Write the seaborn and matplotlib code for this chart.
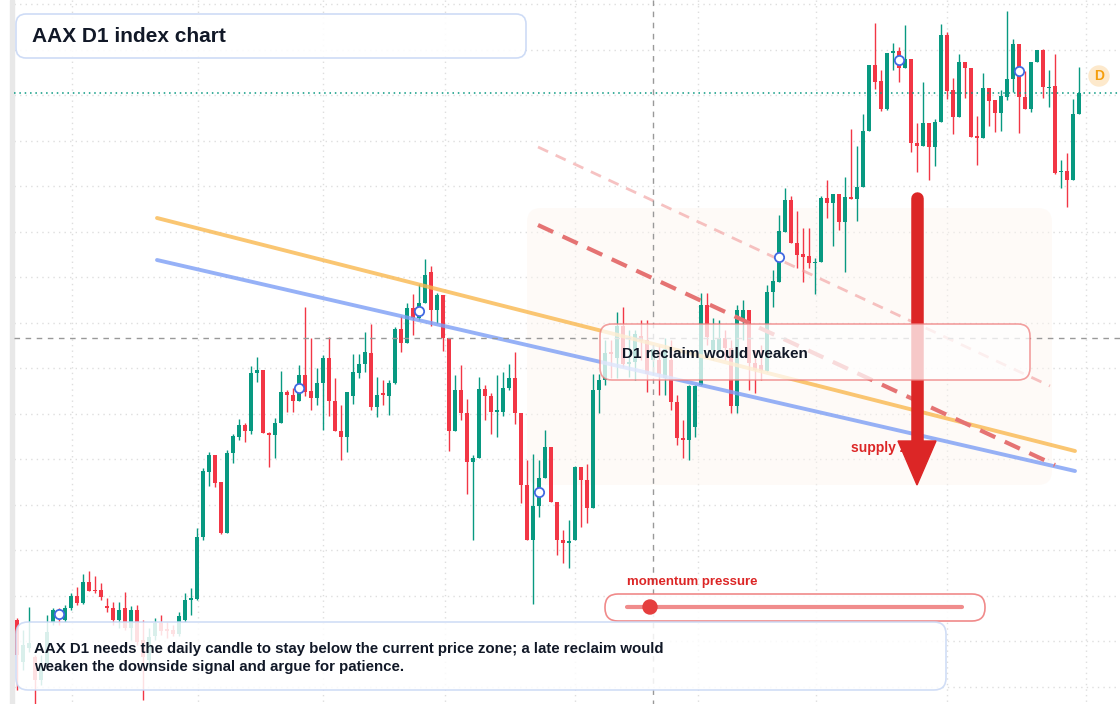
import numpy as np
import pandas as pd
import matplotlib
matplotlib.use("Agg")
import matplotlib.pyplot as plt
import matplotlib.transforms as mtransforms
from matplotlib.patches import FancyBboxPatch, Circle, Polygon
import seaborn as sns

# open, close, high, low per daily candle (smaller = higher price)
ohlc_px = [
    (620, 655, 618, 690), (662, 645, 630, 670), (648, 643, 607, 652), (657, 680, 655, 704), (680, 665, 655, 685),
    (665, 632, 615, 668), (622, 610, 608, 625), (612, 615, 608, 625), (620, 608, 605, 622), (608, 596, 593, 610),
    (596, 603, 587, 605), (603, 582, 574, 604), (582, 591, 571, 591), (590, 591, 576, 593), (590, 597, 583, 600),
    (606, 608, 598, 612), (608, 620, 602, 625), (620, 610, 602, 628), (608, 628, 592, 630), (628, 610, 606, 640),
    (610, 642, 605, 645), (640, 657, 620, 700), (660, 637, 628, 668), (636, 623, 618, 640), (623, 631, 615, 635),
    (629, 631, 622, 638), (630, 634, 625, 636), (634, 616, 612, 636), (620, 600, 593, 622), (600, 598, 588, 615),
    (599, 537, 528, 600), (537, 471, 468, 540), (472, 455, 452, 486), (455, 483, 455, 487), (482, 533, 482, 534),
    (533, 453, 450, 533), (453, 436, 434, 463), (437, 425, 419, 440), (425, 431, 423, 442), (431, 373, 366, 434),
    (373, 370, 357, 382), (370, 433, 370, 433), (433, 435, 432, 467), (435, 423, 418, 458), (423, 392, 371, 423),
    (392, 395, 390, 412), (395, 401, 388, 412), (401, 375, 365, 401), (375, 392, 307, 396), (391, 398, 338, 410),
    (398, 383, 368, 405), (383, 358, 355, 430), (358, 401, 337, 416), (401, 431, 378, 431), (431, 437, 405, 460),
    (437, 392, 392, 452), (396, 372, 354, 404), (373, 364, 354, 378), (364, 352, 332, 372), (353, 407, 324, 410),
    (407, 395, 377, 417), (393, 395, 380, 405), (396, 383, 380, 415), (383, 329, 327, 384), (329, 343, 316, 352),
    (343, 308, 303, 343), (308, 318, 294, 335), (318, 303, 284, 320), (303, 275, 259, 303), (272, 310, 266, 326),
    (310, 295, 293, 323), (295, 338, 295, 351), (338, 431, 338, 451), (431, 390, 375, 431), (390, 413, 365, 420),
    (413, 462, 399, 494), (462, 458, 455, 540), (458, 389, 377, 458), (389, 396, 385, 420), (396, 412, 393, 434),
    (412, 410, 375, 437), (412, 388, 372, 416), (388, 378, 364, 390), (378, 413, 352, 424), (413, 485, 413, 503),
    (485, 540, 460, 540), (540, 506, 454, 604), (506, 478, 460, 517), (478, 447, 430, 478), (447, 502, 447, 502),
    (502, 540, 502, 555), (540, 543, 530, 563), (543, 541, 520, 568), (540, 467, 466, 540), (467, 480, 467, 527),
    (480, 508, 464, 523), (508, 390, 374, 508), (390, 380, 374, 413), (380, 353, 340, 385), (352, 354, 340, 378),
    (358, 326, 312, 378), (326, 364, 307, 367), (364, 362, 330, 377), (362, 334, 330, 380), (336, 341, 320, 360),
    (340, 374, 320, 392), (360, 349, 345, 375), (360, 374, 345, 395), (378, 349, 338, 395), (360, 402, 340, 410),
    (402, 438, 395, 445), (438, 440, 420, 458), (440, 386, 385, 460), (427, 386, 385, 437), (385, 305, 293, 385),
    (305, 337, 293, 345), (350, 340, 318, 360), (350, 338, 320, 352), (338, 348, 330, 360), (348, 406, 340, 413),
    (406, 310, 305, 413), (320, 310, 300, 340), (310, 363, 310, 390), (363, 370, 350, 393), (365, 371, 345, 380),
    (371, 292, 285, 372), (292, 281, 270, 307), (282, 231, 215, 282), (232, 200, 188, 232), (200, 243, 196, 243),
    (243, 255, 211, 268), (254, 257, 228, 282), (256, 263, 228, 268), (263, 262, 258, 294), (262, 198, 196, 262),
    (198, 203, 180, 218), (203, 194, 194, 246), (194, 222, 194, 230), (222, 197, 177, 272), (197, 199, 129, 199),
    (199, 187, 146, 221), (187, 131, 114, 187), (131, 65, 65, 131), (65, 82, 23, 89), (81, 109, 70, 111),
    (109, 53, 53, 110), (53, 51, 43, 70), (51, 68, 47, 82), (68, 59, 25, 68), (59, 143, 59, 152),
    (143, 146, 123, 172), (146, 123, 82, 146), (123, 147, 123, 180), (147, 122, 119, 166), (122, 35, 24, 122),
    (35, 91, 32, 99), (90, 117, 78, 134), (117, 62, 54, 117), (62, 68, 62, 98), (68, 137, 68, 137),
    (136, 138, 116, 165), (138, 88, 73, 138), (88, 101, 88, 126), (100, 113, 100, 132), (113, 96, 90, 131),
    (97, 79, 11, 100), (79, 44, 39, 92), (44, 97, 44, 133), (97, 109, 71, 109), (109, 62, 62, 112),
    (62, 50, 50, 62), (50, 87, 49, 98), (88, 87, 70, 107), (86, 173, 54, 174), (172, 171, 160, 188),
    (171, 180, 153, 207), (180, 114, 99, 180), (114, 93, 67, 114),
]
TOP = 800  # level = TOP - pixel row
candles = TOP - pd.DataFrame(ohlc_px, columns=["open", "close", "high", "low"])
candles["day"] = np.arange(len(candles))

marker_days = [7, 47, 67, 87, 127, 147, 167]
title_text = "AAX D1 index chart"
note_text = ("AAX D1 needs the daily candle to stay below the current price zone; a late reclaim would\n"
             "weaken the downside signal and argue for patience.")
callout_text = "D1 reclaim would weaken"

UP, DOWN = "#089981", "#f23645"

sns.set_theme(style="white")
plt.rcParams["font.family"] = ["Liberation Sans", "DejaVu Sans"]

fig = plt.figure(figsize=(11.2, 7.04), dpi=100)
ax = fig.add_axes([0, 0, 1, 1])
ax.set_xlim((0 - 17.3) / 6, (1120 - 17.3) / 6)
ax.set_ylim(TOP - 704, TOP)
ax.axis("off")
px = mtransforms.Affine2D().scale(1, -1).translate(0, 704)  # pixel coords, y down

# background grid
for gy in np.arange(4, 704, 45.5):
    ax.plot([14, 1120], [gy, gy], transform=px, color="#dedede", lw=1, ls=(0, (1, 3)), zorder=0)
for gx in [72, 198, 323, 445, 575, 698, 816, 947, 1086]:
    ax.plot([gx, gx], [0, 704], transform=px, color="#dedede", lw=1, ls=(0, (1, 3)), zorder=0)
ax.add_patch(plt.Rectangle((10, 0), 4, 704, transform=px, color="#e8e8e8", zorder=0))

# supply zone shading
ax.add_patch(FancyBboxPatch((527, 208), 525, 277, boxstyle="round,pad=0,rounding_size=14",
                            transform=px, fc="#fdf5ef", ec="none", alpha=0.45, zorder=0.5))

# candles
up = candles["close"] >= candles["open"]
col = np.where(up, UP, DOWN)
ax.vlines(candles["day"], candles["low"], candles["high"], colors=col, lw=1, zorder=2)
body_lo = np.minimum(candles["open"], candles["close"])
body_h = np.maximum(np.abs(candles["close"] - candles["open"]), 1.2)
ax.bar(candles["day"], body_h, bottom=body_lo, width=0.72, color=col, linewidth=0, zorder=2)

# trend lines
ax.plot([157, 1075], [218, 451], transform=px, color="#f9b84f", lw=2.8, alpha=0.8, zorder=3, solid_capstyle="round")
ax.plot([157, 1075], [260, 471], transform=px, color="#7c9ef5", lw=2.8, alpha=0.8, zorder=3, solid_capstyle="round")
ax.plot([538, 1055], [225, 465], transform=px, color="#e57373", lw=3, ls=(0, (4, 2.5)), zorder=3)
ax.plot([538, 1050], [147, 386], transform=px, color="#f19a9a", lw=2, alpha=0.6, ls=(0, (4, 3)), zorder=3)

# crosshair and last price line
ax.plot([653, 653], [0, 704], transform=px, color="#999999", lw=1, ls=(0, (4, 4)), zorder=3)
ax.plot([14, 1120], [338, 338], transform=px, color="#999999", lw=1, ls=(0, (4, 4)), zorder=3)
last_y = TOP - candles["close"].iloc[-1]
ax.plot([14, 1120], [last_y, last_y], transform=px, color=UP, lw=1.1, ls=(0, (1, 2.5)), zorder=3)

# markers
ax.scatter(candles["day"].iloc[marker_days],
           (candles["open"].iloc[marker_days] + candles["close"].iloc[marker_days]) / 2,
           s=45, facecolor="white", edgecolor="#4169e1", lw=1.3, zorder=4)

# arrow
ax.plot([917, 917], [198, 450], transform=px, color="#dc2626", lw=9, solid_capstyle="round", zorder=5)
ax.add_patch(Polygon([[898, 441], [936, 441], [917, 485]], closed=True, transform=px, color="#dc2626", zorder=5))
ax.text(851, 448, "supply zone", transform=px, color="#dc2626", fontsize=10, fontweight="bold",
        va="center", zorder=4.5)

# D badge
ax.add_patch(Circle((1099, 76), 10, transform=px, color="#fde9cc", zorder=5))
ax.text(1099, 76, "D", transform=px, color="#f59e0b", fontsize=10, fontweight="bold",
        ha="center", va="center", zorder=6)

# callout
ax.add_patch(FancyBboxPatch((600, 324), 430, 56, boxstyle="round,pad=0,rounding_size=12", transform=px,
                            fc="white", ec="#ef8080", lw=1.2, alpha=0.75, zorder=6))
ax.text(622, 354, callout_text, transform=px, fontsize=11, fontweight="bold", color="#111827",
        va="center", zorder=7)

# momentum slider
ax.text(627, 582, "momentum pressure", transform=px, fontsize=9.5, fontweight="bold", color="#dc2626",
        va="center", zorder=7)
ax.add_patch(FancyBboxPatch((605, 594), 380, 27, boxstyle="round,pad=0,rounding_size=13", transform=px,
                            fc="white", ec="#ef7d7d", lw=1.2, alpha=0.9, zorder=6))
ax.plot([627, 962], [607, 607], transform=px, color="#f08c8c", lw=3, zorder=7)
ax.add_patch(Circle((650, 607), 7, transform=px, color="#e53e3e", zorder=8))

# title box
ax.add_patch(FancyBboxPatch((16, 14), 510, 44, boxstyle="round,pad=0,rounding_size=10", transform=px,
                            fc="white", ec="#c9d8f5", lw=1.2, alpha=0.9, zorder=6))
ax.text(32, 37, title_text, transform=px, fontsize=15, fontweight="bold", color="#111827",
        va="center", zorder=7)

# bottom note
ax.add_patch(FancyBboxPatch((16, 622), 930, 68, boxstyle="round,pad=0,rounding_size=12", transform=px,
                            fc="white", ec="#c9d8f5", lw=1.2, alpha=0.85, zorder=6))
ax.text(34, 658, note_text, transform=px, fontsize=10.8, fontweight="bold", color="#111827",
        va="center", linespacing=1.45, zorder=7)

fig.savefig("out.png", dpi=100)
